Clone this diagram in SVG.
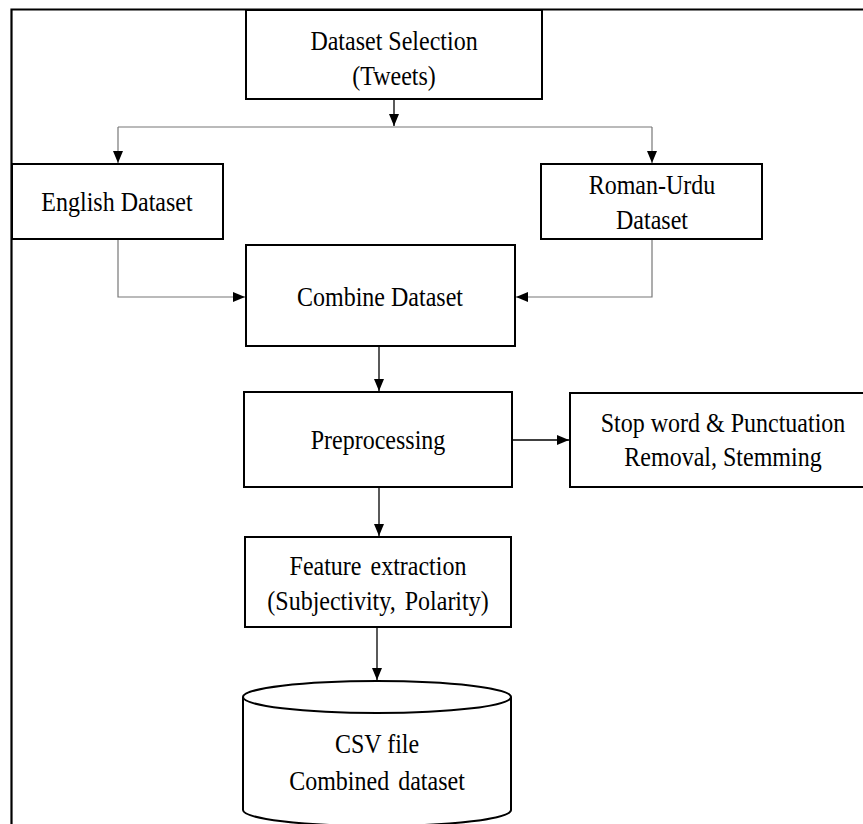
<svg xmlns="http://www.w3.org/2000/svg" width="863" height="824" viewBox="0 0 863 824">
<style>
.box{fill:#fff;stroke:#000;stroke-width:2}
.t{font-family:"Liberation Serif","Times New Roman",serif;font-size:24px;fill:#000;text-anchor:middle}
.c{fill:none;stroke:#000;stroke-width:1.3}
.g{fill:none;stroke:#777;stroke-width:1.2}
</style>
<defs>
<marker id="ah" markerUnits="userSpaceOnUse" markerWidth="12" markerHeight="12" viewBox="0 0 12 10" refX="12" refY="5" orient="auto">
<path d="M0,0 L12,5 L0,10 Z" fill="#000"/>
</marker>
</defs>
<rect width="863" height="824" fill="#fff"/>
<g id="frame"><path d="M11.5,830 V9.5 H870" fill="none" stroke="#000" stroke-width="2.2"/></g>
<g id="connectors">
<line class="c" x1="394" y1="99" x2="394" y2="126" marker-end="url(#ah)"/>
<path class="g" d="M118,127 H652"/>
<line class="g" x1="118" y1="127" x2="118" y2="163" marker-end="url(#ah)"/>
<line class="g" x1="652" y1="127" x2="652" y2="163" marker-end="url(#ah)"/>
<path class="g" d="M118,239 V297 H245" marker-end="url(#ah)"/>
<path class="g" d="M652,239 V297 H516" marker-end="url(#ah)"/>
<line class="c" x1="379" y1="346" x2="379" y2="391" stroke-width="1.6" marker-end="url(#ah)"/>
<line class="c" x1="512" y1="440" x2="569" y2="440" stroke-width="2" marker-end="url(#ah)"/>
<line class="c" x1="379" y1="487" x2="379" y2="536" stroke-width="1.6" marker-end="url(#ah)"/>
<line class="c" x1="377" y1="627" x2="377" y2="680" stroke-width="1.6" marker-end="url(#ah)"/>
</g>
<g id="dataset-selection">
<rect class="box" x="246" y="10" width="296" height="89"/>
<text class="t" transform="translate(394,50) scale(1,1.15)">Dataset Selection</text>
<text class="t" transform="translate(394,85) scale(1,1.15)">(Tweets)</text>
</g>
<g id="english-dataset">
<rect class="box" x="12" y="164" width="211" height="75"/>
<text class="t" transform="translate(117,211) scale(1,1.15)">English Dataset</text>
</g>
<g id="roman-urdu-dataset">
<rect class="box" x="541" y="164" width="221" height="75"/>
<text class="t" transform="translate(652,194) scale(1,1.15)">Roman-Urdu</text>
<text class="t" transform="translate(652,229) scale(1,1.15)">Dataset</text>
</g>
<g id="combine-dataset">
<rect class="box" x="246" y="245" width="269" height="101"/>
<text class="t" transform="translate(380,306) scale(1,1.15)">Combine Dataset</text>
</g>
<g id="preprocessing">
<rect class="box" x="244" y="392" width="268" height="95"/>
<text class="t" transform="translate(378,449) scale(1,1.15)">Preprocessing</text>
</g>
<g id="stopword-removal">
<rect class="box" x="570" y="393" width="320" height="94"/>
<text class="t" transform="translate(723,432) scale(1,1.15)">Stop word &amp; Punctuation</text>
<text class="t" transform="translate(723,466) scale(1,1.15)">Removal, Stemming</text>
</g>
<g id="feature-extraction">
<rect class="box" x="245" y="537" width="266" height="90"/>
<text class="t" transform="translate(378,575) scale(1,1.15)" word-spacing="3">Feature extraction</text>
<text class="t" transform="translate(378,610) scale(1,1.15)" word-spacing="3">(Subjectivity, Polarity)</text>
</g>
<g id="csv-file">
<path d="M243,697 V810 A134,16 0 0 0 511,810 V697" fill="#fff" stroke="#000" stroke-width="2"/>
<ellipse cx="377" cy="697" rx="134" ry="16" fill="#fff" stroke="#000" stroke-width="2"/>
<text class="t" transform="translate(377,753) scale(1,1.15)">CSV file</text>
<text class="t" transform="translate(377,790) scale(1,1.15)" word-spacing="3">Combined dataset</text>
</g>
</svg>
